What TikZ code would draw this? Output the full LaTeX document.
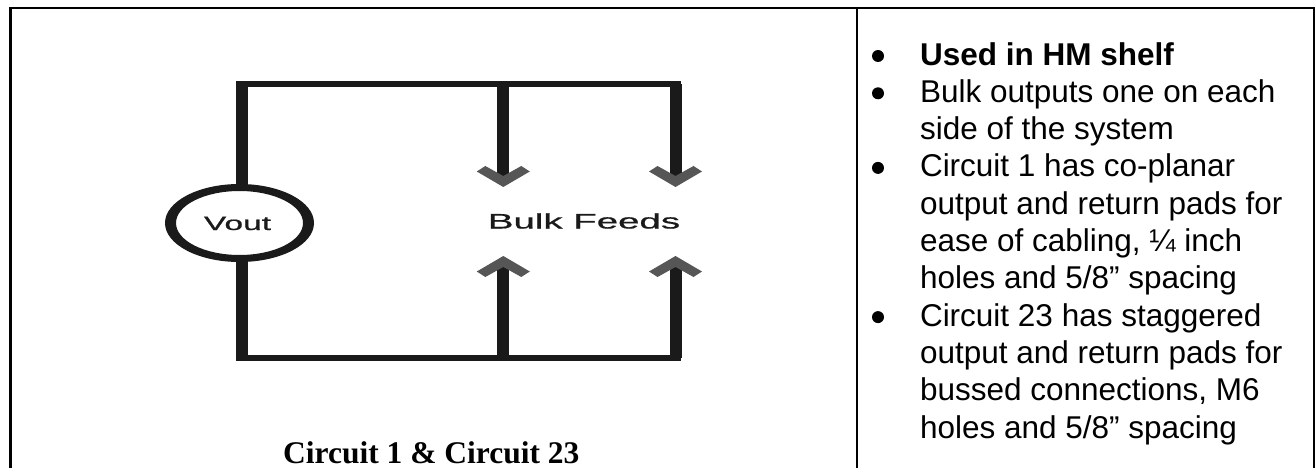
\documentclass[tikz,border=0pt]{standalone}
\usepackage{fontspec}
\setmainfont{Liberation Sans}
\newfontfamily\capfont{Liberation Serif}
\newfontfamily\diagfont[FakeBold=0.6]{Liberation Sans}
\usetikzlibrary{shapes.geometric}
\definecolor{wirec}{HTML}{1A1A1A}
\definecolor{headc}{HTML}{565656}
\tikzset{
  framel/.style={line width=2.4pt,black},
  vwire/.style={line width=12pt,wirec},
  hwire/.style={line width=6pt,wirec},
  chevron/.pic={\fill[headc] (0,0) -- (-26.5,-15.5) -- (-18,-21) -- (0,-11) -- (18,-21) -- (26.5,-15.5) -- cycle;},
  bullettext/.style={anchor=north west,inner sep=0pt,outer sep=0pt,align=left,font=\fontsize{31.5}{37.3}\selectfont,text=black},
  bulletdot/.style={circle,fill=black,inner sep=0pt,minimum size=12pt},
  diagtext/.style={anchor=base,inner sep=0pt,text=wirec}
}
\begin{document}
\begin{tikzpicture}[x=1pt,y=-1pt]
\useasboundingbox (0,0) rectangle (1315,468);
\fill[white] (0,0) rectangle (1315,468);
% frame
\coordinate (f1) at (10.5,468);
\coordinate (f2) at (10.5,7.8);
\coordinate (f3) at (1314,7.8);
\coordinate (f4) at (1314,468);
\coordinate (d1) at (856.7,7.8);
\coordinate (d2) at (856.7,468);
\draw[framel,line join=miter] (f1) -- (f2) -- (f3) -- (f4);
\draw[line width=2pt,black] (d1) -- (d2);
% source
\node[ellipse,minimum width=149pt,minimum height=78pt,inner sep=0pt,outer sep=0pt] (vout) at (239.5,223) {};
\fill[wirec,even odd rule] (vout.center) ellipse [x radius=74.5,y radius=39] (vout.center) ellipse [x radius=63.5,y radius=32];
\node[diagtext,font=\diagfont\fontsize{19.5}{21}\selectfont] (voutlabel) at (237.5,230) {\scalebox{1.72}[1]{Vout}};
% wiring
\coordinate (tl) at (236.3,84.5);
\coordinate (tr) at (681,84.5);
\coordinate (bl) at (236.3,358.3);
\coordinate (br) at (681,358.3);
\draw[hwire] (tl) -- (tr);
\draw[hwire] (bl) -- (br);
\coordinate (a1) at (242.3,81.5);
\coordinate (a2) at (242.3,186);
\coordinate (a3) at (242.3,260);
\coordinate (a4) at (242.3,361.3);
\draw[vwire] (a1) -- (a2);
\draw[vwire] (a3) -- (a4);
\coordinate (s1t) at (502.7,84);
\coordinate (s1a) at (502.7,176);
\coordinate (s2t) at (675.5,84);
\coordinate (s2a) at (675.5,176);
\coordinate (s1b) at (502.7,358);
\coordinate (s1u) at (502.7,266);
\coordinate (s2b) at (675.5,358);
\coordinate (s2u) at (675.5,266);
\draw[vwire] (s1t) -- (s1a);
\draw[vwire] (s2t) -- (s2a);
\draw[vwire] (s1b) -- (s1u);
\draw[vwire] (s2b) -- (s2u);
\pic at (503.3,187) {chevron};
\pic at (675.5,187) {chevron};
\pic[yscale=-1] at (503.3,256) {chevron};
\pic[yscale=-1] at (675.5,256) {chevron};
\node[diagtext,font=\diagfont\fontsize{21}{23}\selectfont] (bulk) at (584,228.5) {\scalebox{1.83}[1]{Bulk Feeds}};
% caption
\node[anchor=base west,inner sep=0pt,font=\capfont\bfseries\fontsize{31.5}{36}\selectfont] (cap) at (283,463) {Circuit 1 \& Circuit 23};
% bullets
\node[bulletdot] (b1) at (878,56) {};
\node[bulletdot] (b2) at (878,93.3) {};
\node[bulletdot] (b3) at (878,167.9) {};
\node[bulletdot] (b4) at (878,317.1) {};
\node[bullettext] (t1) at (920,38.9) {\strut\textbf{Used in HM shelf}};
\node[bullettext] (t2) at (920,76.2) {\strut Bulk outputs one on each\\side of the system};
\node[bullettext] (t3) at (920,150.8) {\strut Circuit 1 has co-planar\\output and return pads for\\ease of cabling, ¼ inch\\holes and 5/8” spacing};
\node[bullettext] (t4) at (920,300) {\strut Circuit 23 has staggered\\output and return pads for\\bussed connections, M6\\holes and 5/8” spacing};
\end{tikzpicture}
\end{document}
